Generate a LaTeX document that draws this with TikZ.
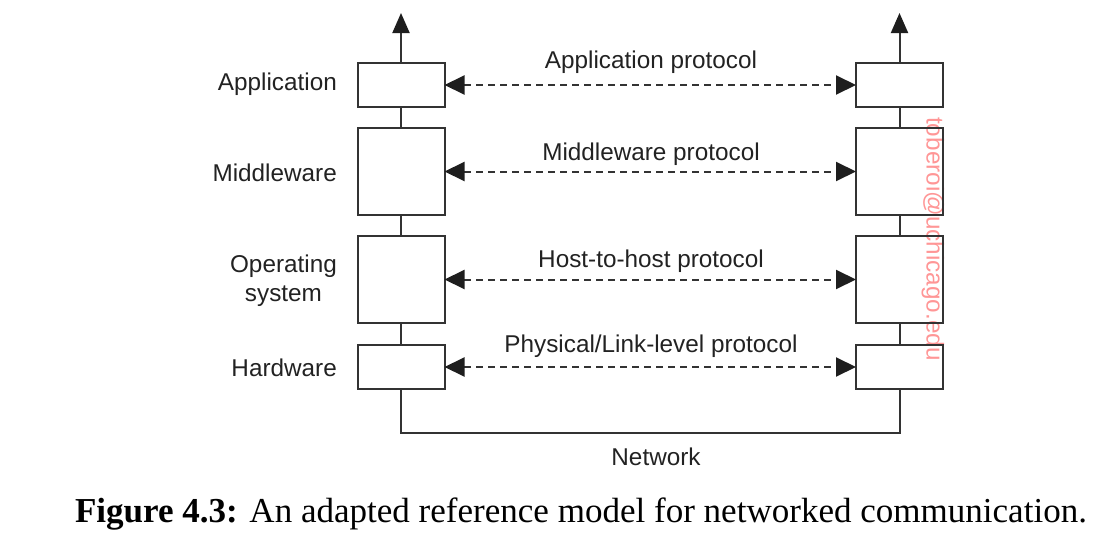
\documentclass[tikz,border=0pt]{standalone}
\usepackage{fontspec}
\usepackage{graphicx}
\setmainfont{Liberation Serif}
\newfontfamily\lab{Liberation Sans}
\usetikzlibrary{arrows.meta}
\definecolor{ln}{HTML}{333333}
\definecolor{tip}{HTML}{1E1E1E}
\definecolor{tx}{HTML}{222222}
\definecolor{wm}{RGB}{255,150,150}
\begin{document}
\begin{tikzpicture}[x=1pt,y=-1pt,
  box/.style={draw=ln,line width=2pt,fill=white,minimum width=87pt,inner sep=0pt,outer sep=0pt},
  conn/.style={draw=ln,line width=2pt},
  up/.style={conn,-{Triangle[length=20pt,width=17pt,color=tip]}},
  proto/.style={draw=ln,line width=2pt,dash pattern=on 7pt off 5pt,{Triangle[length=20pt,width=19pt,color=tip]}-{Triangle[length=20pt,width=19pt,color=tip]}},
  lbl/.style={font=\lab\fontsize{24.3}{29}\selectfont,text=tx,inner sep=0pt}]
\useasboundingbox (0,0) rectangle (1120,541);
% watermark (behind)
\node[lbl,text=wm,rotate=-90] (wmk) at (933,239) {toberoi@uchicago.edu};
% left stack
\node[box,minimum height=44pt,fill=none] (la) at (401,85) {};
\node[box,minimum height=87pt,fill=none] (lm) at (401,171.5) {};
\node[box,minimum height=87pt,fill=none] (lo) at (401,279.5) {};
\node[box,minimum height=44pt,fill=none] (lh) at (401,367) {};
% right stack
\node[box,minimum height=44pt,fill=none] (ra) at (899.5,85) {};
\node[box,minimum height=87pt,fill=none] (rm) at (899.5,171.5) {};
\node[box,minimum height=87pt,fill=none] (ro) at (899.5,279.5) {};
\node[box,minimum height=44pt,fill=none] (rh) at (899.5,367) {};
% top arrows
\coordinate (lt) at (401,13);
\coordinate (rt) at (899.5,13);
\draw[up] (la.north) -- (lt);
\draw[up] (ra.north) -- (rt);
% stack connectors
\draw[conn] (la.south) -- (lm.north);
\draw[conn] (lm.south) -- (lo.north);
\draw[conn] (lo.south) -- (lh.north);
\draw[conn] (ra.south) -- (rm.north);
\draw[conn] (rm.south) -- (ro.north);
\draw[conn] (ro.south) -- (rh.north);
% network
\coordinate (nl) at (401,433);
\coordinate (nr) at (899.5,433);
\draw[conn,line join=miter] (lh.south) -- (nl) -- (nr) -- (rh.south);
% protocols
\draw[proto] (la.east) -- (ra.west);
\draw[proto] (lm.east) -- (rm.west);
\draw[proto] (lo.east) -- (ro.west);
\draw[proto] (lh.east) -- (rh.west);
% protocol labels
\node[lbl] (pa) at (651,62) {Application protocol};
\node[lbl] (pm) at (651,154) {Middleware protocol};
\node[lbl] (po) at (651,261) {Host-to-host protocol};
\node[lbl] (ph) at (651,346) {Physical/Link-level protocol};
% layer labels
\node[lbl,anchor=east] (ta) at (337,84) {Application};
\node[lbl,anchor=east] (tm) at (337,173) {Middleware};
\node[lbl,anchor=east,align=center] (to) at (337,281) {Operating\\system};
\node[lbl,anchor=east] (th) at (337,368) {Hardware};
\node[lbl] (net) at (656,457) {Network};
% caption
\node[inner sep=0pt,text=black] (cap) at (581,514) {\resizebox{1012pt}{!}{\textbf{Figure 4.3:} An adapted reference model for networked communication.}};
\end{tikzpicture}
\end{document}
